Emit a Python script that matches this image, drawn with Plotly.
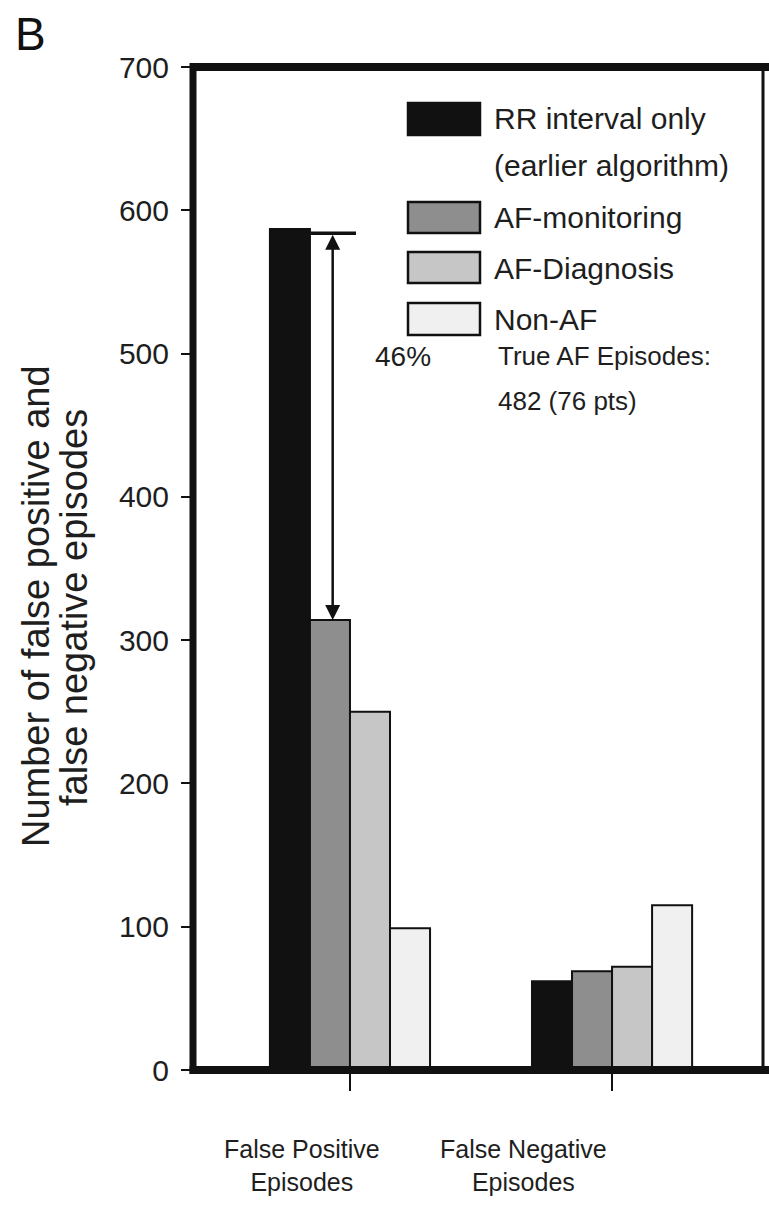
import plotly.graph_objects as go

# ---- data ----
categories = ["False Positive Episodes", "False Negative Episodes"]
cat_pos = [0, 1]
series_names = ["RR interval only (earlier algorithm)", "AF-monitoring", "AF-Diagnosis", "Non-AF"]
rr_only = [587, 62]
af_monitoring = [314, 69]
af_diagnosis = [250, 72]
non_af = [99, 115]
y_ticks = [0, 100, 200, 300, 400, 500, 600, 700]
colors = ["#111111", "#8e8e8e", "#c6c6c6", "#f0f0f0"]

W, H = 769, 1211
ML, MR, MT, MB = 193, 6, 67, 141
PW, PH = W - ML - MR, H - MT - MB

def px(x):
    return (x - ML) / PW

def py(y):
    return (H - MB - y) / PH

FONT = "Liberation Sans, Arial, sans-serif"
TXT = "#1e1e1e"

fig = go.Figure()
for name, vals, c in zip(series_names, [rr_only, af_monitoring, af_diagnosis, non_af], colors):
    fig.add_trace(go.Bar(
        x=cat_pos, y=vals, name=name,
        marker=dict(color=c, line=dict(color="#111111", width=2)),
        showlegend=False,
    ))

shapes = []
# frame
shapes.append(dict(type="line", xref="paper", yref="paper", x0=0, x1=1.02, y0=1, y1=1,
                   line=dict(color="#111111", width=8)))
shapes.append(dict(type="line", xref="paper", yref="paper", x0=0, x1=0, y0=-0.004, y1=1.004,
                   line=dict(color="#111111", width=7)))
shapes.append(dict(type="line", xref="paper", yref="paper", x0=-0.006, x1=1.02, y0=0, y1=0,
                   line=dict(color="#111111", width=8)))
shapes.append(dict(type="line", xref="paper", yref="paper", x0=1, x1=1, y0=0, y1=1,
                   line=dict(color="#111111", width=3)))

# bracket line at top of first black bar
shapes.append(dict(type="line", xref="x", yref="y", x0=-0.15, x1=0.023, y0=rr_only[0] - 3, y1=rr_only[0] - 3,
                   line=dict(color="#111111", width=3.5)))

# legend swatches (drawn)
legend_rows = [(103, 135), (202, 233), (252, 283), (303, 335)]
for (y0, y1), c in zip(legend_rows, colors):
    shapes.append(dict(type="rect", xref="paper", yref="paper",
                       x0=px(408), x1=px(480), y0=py(y1), y1=py(y0),
                       fillcolor=c, line=dict(color="#111111", width=2.5)))

annotations = []
legend_texts = [("RR interval only", 119), ("(earlier algorithm)", 165),
                ("AF-monitoring", 218), ("AF-Diagnosis", 268), ("Non-AF", 319)]
for t, yy in legend_texts:
    annotations.append(dict(xref="paper", yref="paper", x=px(492), y=py(yy), text=t,
                            showarrow=False, xanchor="left", yanchor="middle",
                            font=dict(family=FONT, size=30, color=TXT)))

# double arrow (46%)
annotations.append(dict(xref="x", yref="y", axref="x", ayref="y",
                        x=-0.066, y=af_monitoring[0], ax=-0.066, ay=rr_only[0] - 3,
                        text="", showarrow=True, arrowhead=2, startarrowhead=2,
                        arrowside="end+start", arrowsize=1.2, arrowwidth=2.5, arrowcolor="#111111",
                        standoff=0, startstandoff=0))
annotations.append(dict(xref="paper", yref="paper", x=px(373), y=py(356), text="46%",
                        showarrow=False, xanchor="left", yanchor="middle",
                        font=dict(family=FONT, size=28, color=TXT)))
annotations.append(dict(xref="paper", yref="paper", x=px(496), y=py(356), text="True AF Episodes:",
                        showarrow=False, xanchor="left", yanchor="middle",
                        font=dict(family=FONT, size=26, color=TXT)))
annotations.append(dict(xref="paper", yref="paper", x=px(496), y=py(401), text="482 (76 pts)",
                        showarrow=False, xanchor="left", yanchor="middle",
                        font=dict(family=FONT, size=26, color=TXT)))

# category labels
for lab, xc in zip(["False Positive<br>Episodes", "False Negative<br>Episodes"], [302, 523]):
    annotations.append(dict(xref="paper", yref="paper", x=px(xc), y=py(1165), text=lab,
                            showarrow=False, xanchor="center", yanchor="middle",
                            font=dict(family=FONT, size=25, color=TXT)))

# y title (two lines)
for t, xc, yc in [("Number of false positive and", 36, 606), ("false negative episodes", 74, 608)]:
    annotations.append(dict(xref="paper", yref="paper", x=px(xc), y=py(yc), text=t,
                            showarrow=False, textangle=-90, xanchor="center", yanchor="middle",
                            font=dict(family=FONT, size=38, color=TXT)))

# panel letter
annotations.append(dict(xref="paper", yref="paper", x=px(30), y=py(34), text="B",
                        showarrow=False, xanchor="center", yanchor="middle",
                        font=dict(family=FONT, size=46, color="#111111")))

fig.update_layout(
    width=W, height=H,
    margin=dict(l=ML, r=MR, t=MT, b=MB),
    paper_bgcolor="white", plot_bgcolor="white",
    barmode="group", bargap=0.389, bargroupgap=0,
    shapes=shapes, annotations=annotations,
    showlegend=False,
    xaxis=dict(range=[-0.599, 1.576], tickvals=cat_pos, ticktext=["", ""],
               ticks="outside", ticklen=20, tickwidth=2, tickcolor="#111111",
               showgrid=False, zeroline=False, showline=False),
    yaxis=dict(range=[0, 700], tickvals=y_ticks, ticks="outside", ticklen=11, tickwidth=2,
               tickcolor="#111111", showgrid=False, zeroline=False, showline=False,
               ticklabelstandoff=6,
               tickfont=dict(family=FONT, size=30, color=TXT)),
)

fig.write_html("out.html")
